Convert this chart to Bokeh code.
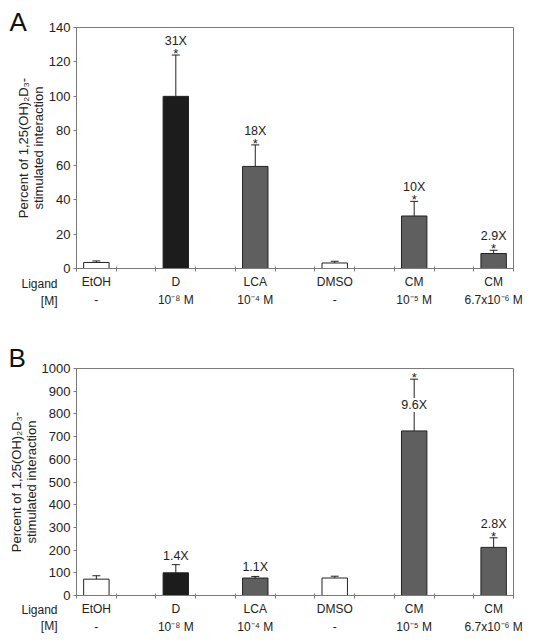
from bokeh.plotting import figure
from bokeh.models import (ColumnDataSource, Whisker, TeeHead, LabelSet, Label,
                          FixedTicker, Range1d, GridBox, Column)
from bokeh.core.properties import value
from bokeh.embed import file_html
from bokeh.resources import INLINE

# ---------------- data ----------------
categories = ["EtOH", "D", "LCA", "DMSO", "CM", "CM"]
concentrations = ["-", "10⁻⁸ M", "10⁻⁴ M", "-", "10⁻⁵ M", "6.7x10⁻⁶ M"]
bar_colors = ["white", "#1c1c1c", "#5f5f5f", "white", "#5f5f5f", "#5f5f5f"]

a_values = [3.5, 100, 59.3, 3.2, 30.5, 8.7]
a_errors = [0.9, 24, 12.5, 1.0, 8.5, 1.9]
a_fold = ["", "31X", "18X", "", "10X", "2.9X"]
a_star = [False, True, True, False, True, True]
a_fold_on_bar = [False, False, False, False, False, False]
a_yticks = [0, 20, 40, 60, 80, 100, 120, 140]

b_values = [72, 100, 77, 77, 725, 212]
b_errors = [15, 36, 7, 8, 228, 42]
b_fold = ["", "1.4X", "1.1X", "", "9.6X", "2.8X"]
b_star = [False, False, False, False, True, True]
b_fold_on_bar = [False, False, False, False, True, False]
b_yticks = [0, 100, 200, 300, 400, 500, 600, 700, 800, 900, 1000]

row_labels = ["Ligand", "[M]"]
panel_letters = ["A", "B"]

FONT = "Liberation Sans"
GRAY = "#7a7a7a"
TXT = "#222222"


def make_panel(values, errors, fold, star, fold_on_bar, yticks,
               height, border_top, border_bottom, border_left, border_right):
    n = len(categories)
    xs = list(range(n))
    tops = [v + e for v, e in zip(values, errors)]
    src = ColumnDataSource(dict(x=xs, value=values, top=tops, color=bar_colors))

    p = figure(width=528, height=height,
               x_range=Range1d(-0.25, n - 0.75),
               y_range=Range1d(yticks[0], yticks[-1]),
               output_backend="svg", toolbar_location=None, tools="",
               min_border_top=border_top, min_border_bottom=border_bottom,
               min_border_left=border_left, min_border_right=border_right)
    p.grid.visible = False
    p.outline_line_color = GRAY
    p.outline_line_width = 1
    p.background_fill_color = "white"
    p.border_fill_color = "white"

    p.vbar(x="x", top="value", bottom=0, width=0.32, fill_color="color",
           line_color="#222222", line_width=1, source=src)

    p.add_layout(Whisker(base="x", lower="value", upper="top", source=src,
                         line_color="#222222", line_width=1,
                         upper_head=TeeHead(size=8, line_color="#222222", line_width=1),
                         lower_head=None))

    common = dict(text_align="center", text_font=value(FONT), text_color=TXT)

    # stars
    s_idx = [i for i in xs if star[i]]
    star_src = ColumnDataSource(dict(x=s_idx, y=[tops[i] for i in s_idx],
                                     t=["*"] * len(s_idx)))
    p.add_layout(LabelSet(x="x", y="y", text="t", source=star_src,
                          text_baseline="alphabetic", y_offset=-3,
                          text_font_size="13px", **common))

    # fold labels above (with star)
    f1 = [i for i in xs if fold[i] and star[i] and not fold_on_bar[i]]
    src1 = ColumnDataSource(dict(x=f1, y=[tops[i] for i in f1], t=[fold[i] for i in f1]))
    p.add_layout(LabelSet(x="x", y="y", text="t", source=src1,
                          text_baseline="alphabetic", y_offset=10,
                          text_font_size="12.5px", **common))
    # fold labels above (no star)
    f2 = [i for i in xs if fold[i] and not star[i] and not fold_on_bar[i]]
    src2 = ColumnDataSource(dict(x=f2, y=[tops[i] for i in f2], t=[fold[i] for i in f2]))
    p.add_layout(LabelSet(x="x", y="y", text="t", source=src2,
                          text_baseline="alphabetic", y_offset=5,
                          text_font_size="12.5px", **common))
    # fold labels on the error bar
    f3 = [i for i in xs if fold[i] and fold_on_bar[i]]
    src3 = ColumnDataSource(dict(x=f3, y=[(values[i] + tops[i]) / 2 for i in f3],
                                 t=[fold[i] for i in f3]))
    p.add_layout(LabelSet(x="x", y="y", text="t", source=src3,
                          text_baseline="middle", text_font_size="12.5px",
                          background_fill_color="white", **common))

    # y axis
    ya = p.yaxis[0]
    ya.ticker = FixedTicker(ticks=yticks)
    ya.axis_line_color = GRAY
    ya.major_tick_line_color = GRAY
    ya.major_tick_in = 0
    ya.major_tick_out = 3
    ya.minor_tick_line_color = None
    ya.major_label_standoff = 3
    ya.major_label_text_font = FONT
    ya.major_label_text_font_size = "13px"
    ya.major_label_text_color = TXT
    ya.axis_label = "Percent of 1,25(OH)₂D₃-\nstimulated interaction"
    ya.axis_label_text_font = FONT
    ya.axis_label_text_font_size = "13px"
    ya.axis_label_text_font_style = "normal"
    ya.axis_label_text_color = TXT
    ya.axis_label_text_line_height = 1.0
    ya.axis_label_standoff = 0

    # x axis
    xa = p.xaxis[0]
    minor = []
    for i in xs:
        minor += [i - 0.25, i + 0.25]
    xa.ticker = FixedTicker(ticks=xs, minor_ticks=minor)
    xa.axis_line_color = GRAY
    xa.major_tick_line_color = None
    xa.major_tick_in = 0
    xa.major_tick_out = 0
    xa.minor_tick_line_color = GRAY
    xa.minor_tick_in = 2
    xa.minor_tick_out = 3
    xa.major_label_overrides = {i: f"{categories[i]}\n{concentrations[i]}" for i in xs}
    xa.major_label_standoff = 3
    xa.major_label_text_font = FONT
    xa.major_label_text_font_size = "12px"
    xa.major_label_text_color = TXT
    xa.major_label_text_line_height = 1.35
    return p


HA, HB = 328, 309
pa = make_panel(a_values, a_errors, a_fold, a_star, a_fold_on_bar, a_yticks,
                HA, 27, 60, 73, 15)
pb = make_panel(b_values, b_errors, b_fold, b_star, b_fold_on_bar, b_yticks,
                HB, 40, 40, 76, 12)

# transparent overlay (pixel space, y downward) for panel letters and row captions
ov = figure(width=528 + 8, height=HA + HB, x_range=Range1d(0, 536),
            y_range=Range1d(HA + HB, 0), x_axis_type=None, y_axis_type=None,
            output_backend="svg", toolbar_location=None, tools="",
            min_border=0, min_border_left=0, min_border_right=0,
            min_border_top=0, min_border_bottom=0, outline_line_color=None)
ov.grid.visible = False
ov.background_fill_alpha = 0
ov.border_fill_alpha = 0

letter_pos = [(9, 21), (8, 357)]
for (lx, ly), letter in zip(letter_pos, panel_letters):
    ov.add_layout(Label(x=lx, y=ly, text=letter, text_align="left",
                        text_baseline="alphabetic", text_font=FONT,
                        text_font_size="26px", text_color="#111111"))
row_pos = [(283, 300), (609, 625)]
for ys in row_pos:
    for yy, lab in zip(ys, row_labels):
        ov.add_layout(Label(x=57, y=yy, text=lab, text_align="right",
                            text_baseline="middle", text_font=FONT,
                            text_font_size="12px", text_color=TXT))

panels = Column(children=[pa, pb])
layout = GridBox(children=[(panels, 0, 0), (ov, 0, 0)])
open("out.html", "w").write(file_html(layout, INLINE))
